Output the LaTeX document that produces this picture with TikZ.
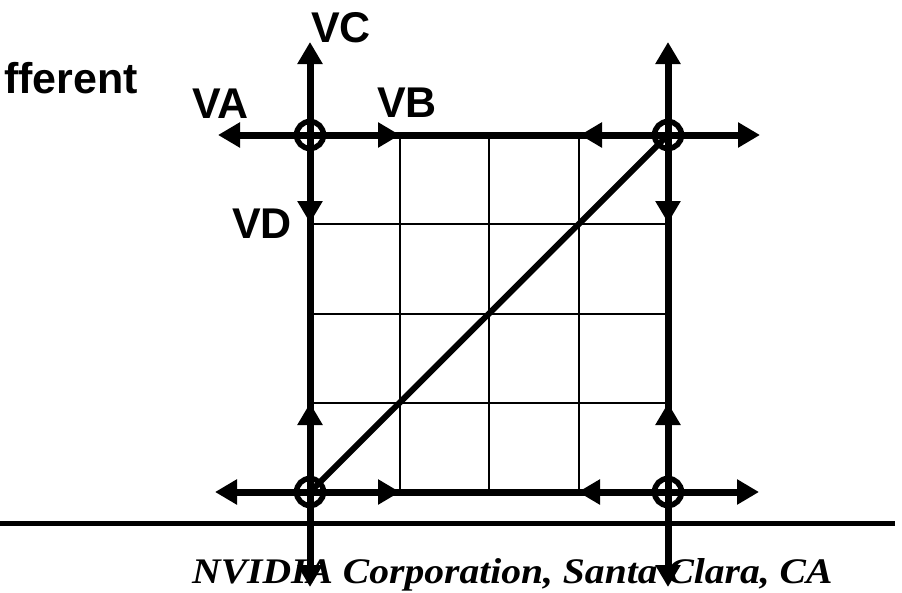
\documentclass[tikz,border=0pt]{standalone}
\usepackage{fontspec}
\usepackage{tikz}
\usetikzlibrary{arrows.meta}
\newfontfamily\lblfamily{Liberation Sans}
\newfontfamily\footfamily{Liberation Serif}
\newcommand{\lblfont}{\lblfamily\bfseries\fontsize{43}{43}\selectfont}
\newcommand{\footfont}{\footfamily\bfseries\itshape\fontsize{36}{36}\selectfont}

\begin{document}
\begin{tikzpicture}[
  x=1pt, y=-1pt,
  vtx/.style={circle, draw, line width=5.5pt, minimum size=27pt, inner sep=0pt},
  edge/.style={line width=7pt, line join=miter},
  gridln/.style={line width=2pt},
  diag/.style={line width=6pt},
  vec/.style={line width=7pt, -{Triangle[length=22pt, width=24pt]}},
  lbl/.style={font=\lblfont, anchor=base west, inner sep=0pt}
]
\useasboundingbox (0,0) rectangle (902,592);
\node[vtx] (tl) at (310,135) {};
\node[vtx] (tr) at (668,135) {};
\node[vtx] (bl) at (310,492) {};
\node[vtx] (br) at (668,492) {};
\coordinate (tlN) at (310,42);
\coordinate (tlW) at (218,135);
\coordinate (tlE) at (400,135);
\coordinate (tlS) at (310,223);
\coordinate (trN) at (668,42);
\coordinate (trW) at (580,135);
\coordinate (trE) at (760,135);
\coordinate (trS) at (668,223);
\coordinate (blN) at (310,403);
\coordinate (blW) at (215,492);
\coordinate (blE) at (400,492);
\coordinate (blS) at (310,587);
\coordinate (brN) at (668,403);
\coordinate (brW) at (578,492);
\coordinate (brE) at (759,492);
\coordinate (brS) at (668,587);
\foreach \x in {399.5,489,578.5}
  \draw[gridln] (\x,135) -- (\x,492);
\foreach \y in {224.25,313.5,402.75}
  \draw[gridln] (310,\y) -- (668,\y);
\draw[edge] (tl.center) -- (tr.center) -- (br.center) -- (bl.center) -- cycle;
\draw[diag] (bl.center) -- (tr.center);
\node[lbl] (vc) at (311,42) {VC};
\node[lbl] (va) at (192,118) {VA};
\node[lbl] (vb) at (377,117) {VB};
\node[lbl] (vd) at (232,238) {VD};
\node[font=\lblfont, anchor=base east, inner sep=0pt] (diff) at (138,93) {fferent};
\coordinate (sepL) at (0,523);
\coordinate (sepR) at (895,523);
\draw[line width=5pt] (sepL) -- (sepR);
\node[font=\footfont, anchor=base west, inner sep=0pt] (foot) at (192,583) {\scalebox{1.10}[1]{NVIDIA Corporation, Santa Clara, CA}};
\foreach \v in {tl,tr,bl,br}
  \foreach \d in {N,W,E,S}
    \draw[vec] (\v.center) -- (\v\d);
\end{tikzpicture}
\end{document}
